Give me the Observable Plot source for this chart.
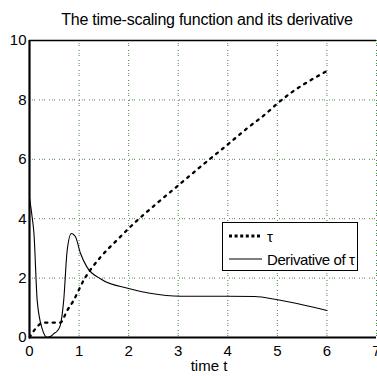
<!DOCTYPE html>
<html><head><meta charset="utf-8">
<script src="https://cdn.jsdelivr.net/npm/d3@7"></script>
<script src="https://cdn.jsdelivr.net/npm/@observablehq/plot@0.6"></script>
<style>
html,body{margin:0;padding:0;background:#fff;}
#wrap{position:relative;width:377px;height:376px;overflow:hidden;font-family:"Liberation Sans",Arial,sans-serif;}
#title{position:absolute;left:0;width:414px;top:11px;text-align:center;font-size:16px;letter-spacing:-0.25px;color:#000;}
#legend{position:absolute;left:222px;top:222px;width:134px;height:47px;border:1px solid #000;background:#fff;font-size:15px;letter-spacing:-0.4px;}
.row{position:absolute;left:6px;height:18px;display:flex;align-items:center;}
.row svg{margin-right:4px;}
</style></head>
<body><div id="wrap"><div id="title">The time-scaling function and its derivative</div></div>
<script>
const tauT = [0, 0.09, 0.22, 0.3, 0.45, 0.62, 0.76, 0.89, 1.09, 1.43, 1.76, 2.1, 2.6, 3.0, 3.5, 4.0, 4.38, 4.78, 5.0, 5.31, 5.77, 6.0];
const tauV = [0, 0.23, 0.46, 0.5, 0.5, 0.5, 0.91, 1.25, 1.92, 2.7, 3.27, 3.83, 4.56, 5.12, 5.82, 6.5, 7.03, 7.55, 7.88, 8.28, 8.76, 8.97];
const derivT = [0, 0.05, 0.09, 0.155, 0.255, 0.355, 0.42, 0.49, 0.56, 0.62, 0.69, 0.76, 0.845, 0.925, 1.03, 1.16, 1.43, 2.0, 2.43, 3.05, 4.0, 4.54, 5.0, 6.0];
const derivV = [4.7, 4.1, 3.5, 1.25, 0.3, 0.01, 0.03, 0.13, 0.22, 0.4, 1.25, 2.93, 3.5, 3.4, 2.83, 2.37, 1.98, 1.65, 1.49, 1.39, 1.39, 1.38, 1.27, 0.91];
const xTicks = [0, 1, 2, 3, 4, 5, 6, 7];
const yTicks = [0, 2, 4, 6, 8, 10];
const gridX = [1, 2, 3, 4, 5, 6, 7];
const gridY = [2, 4, 6, 8];
const legendLabels = ["τ", "Derivative of τ"];

const tau = tauT.map((t, i) => ({t, v: tauV[i]}));
const deriv = derivT.map((t, i) => ({t, v: derivV[i]}));

const plot = Plot.plot({
  width: 377, height: 376,
  marginLeft: 29, marginTop: 40, marginBottom: 39, marginRight: 1,
  style: {fontFamily: '"Liberation Sans",Arial,sans-serif', fontSize: "15px", color: "#000", background: "transparent", overflow: "visible"},
  x: {domain: [0, 7]},
  y: {domain: [0, 10]},
  marks: [
    Plot.ruleX(gridX, {stroke: "#666", strokeDasharray: "1,4", strokeWidth: 1}),
    Plot.ruleX(gridX, {stroke: "#2b2", strokeDasharray: "1,9", strokeDashoffset: 7, strokeWidth: 1}),
    Plot.ruleY(gridY, {stroke: "#666", strokeDasharray: "1,4", strokeWidth: 1}),
    Plot.ruleY(gridY, {stroke: "#2b2", strokeDasharray: "1,9", strokeDashoffset: 7, strokeWidth: 1}),
    Plot.line(deriv, {x: "t", y: "v", stroke: "#000", strokeWidth: 1.1, curve: "monotone-x"}),
    Plot.line(tau, {x: "t", y: "v", stroke: "#000", strokeWidth: 2.3, strokeDasharray: "2.2,5.3", curve: "monotone-x"}),
    Plot.ruleY([10], {stroke: "#000", strokeWidth: 1.5}),
    Plot.ruleX([0], {stroke: "#000", strokeWidth: 2.2}),
    Plot.ruleY([0], {stroke: "#000", strokeWidth: 2.2}),
    Plot.axisX(xTicks, {tickSize: 0, tickPadding: 8, label: null, fontSize: 15}),
    Plot.axisY(yTicks, {tickSize: 0, tickPadding: 3, label: null, fontSize: 15}),
    Plot.text(["time t"], {frameAnchor: "bottom", dx: 6, dy: 33, fontSize: 15, textAnchor: "middle"})
  ]
});
const wrap = document.getElementById("wrap");
plot.style.position = "absolute"; plot.style.left = "0"; plot.style.top = "0";
wrap.appendChild(plot);

const leg = document.createElement("div");
leg.id = "legend";
const styles = [
  '<line x1="0" y1="5" x2="33" y2="5" stroke="#000" stroke-width="3" stroke-dasharray="3,2.6"/>',
  '<line x1="0" y1="5" x2="33" y2="5" stroke="#000" stroke-width="1.1"/>'
];
legendLabels.forEach((lab, i) => {
  const r = document.createElement("div");
  r.className = "row";
  r.style.top = (i === 0 ? 4 : 27) + "px";
  r.innerHTML = `<svg width="34" height="10">${styles[i]}</svg><span>${lab}</span>`;
  leg.appendChild(r);
});
wrap.appendChild(leg);
</script>
</body></html>
